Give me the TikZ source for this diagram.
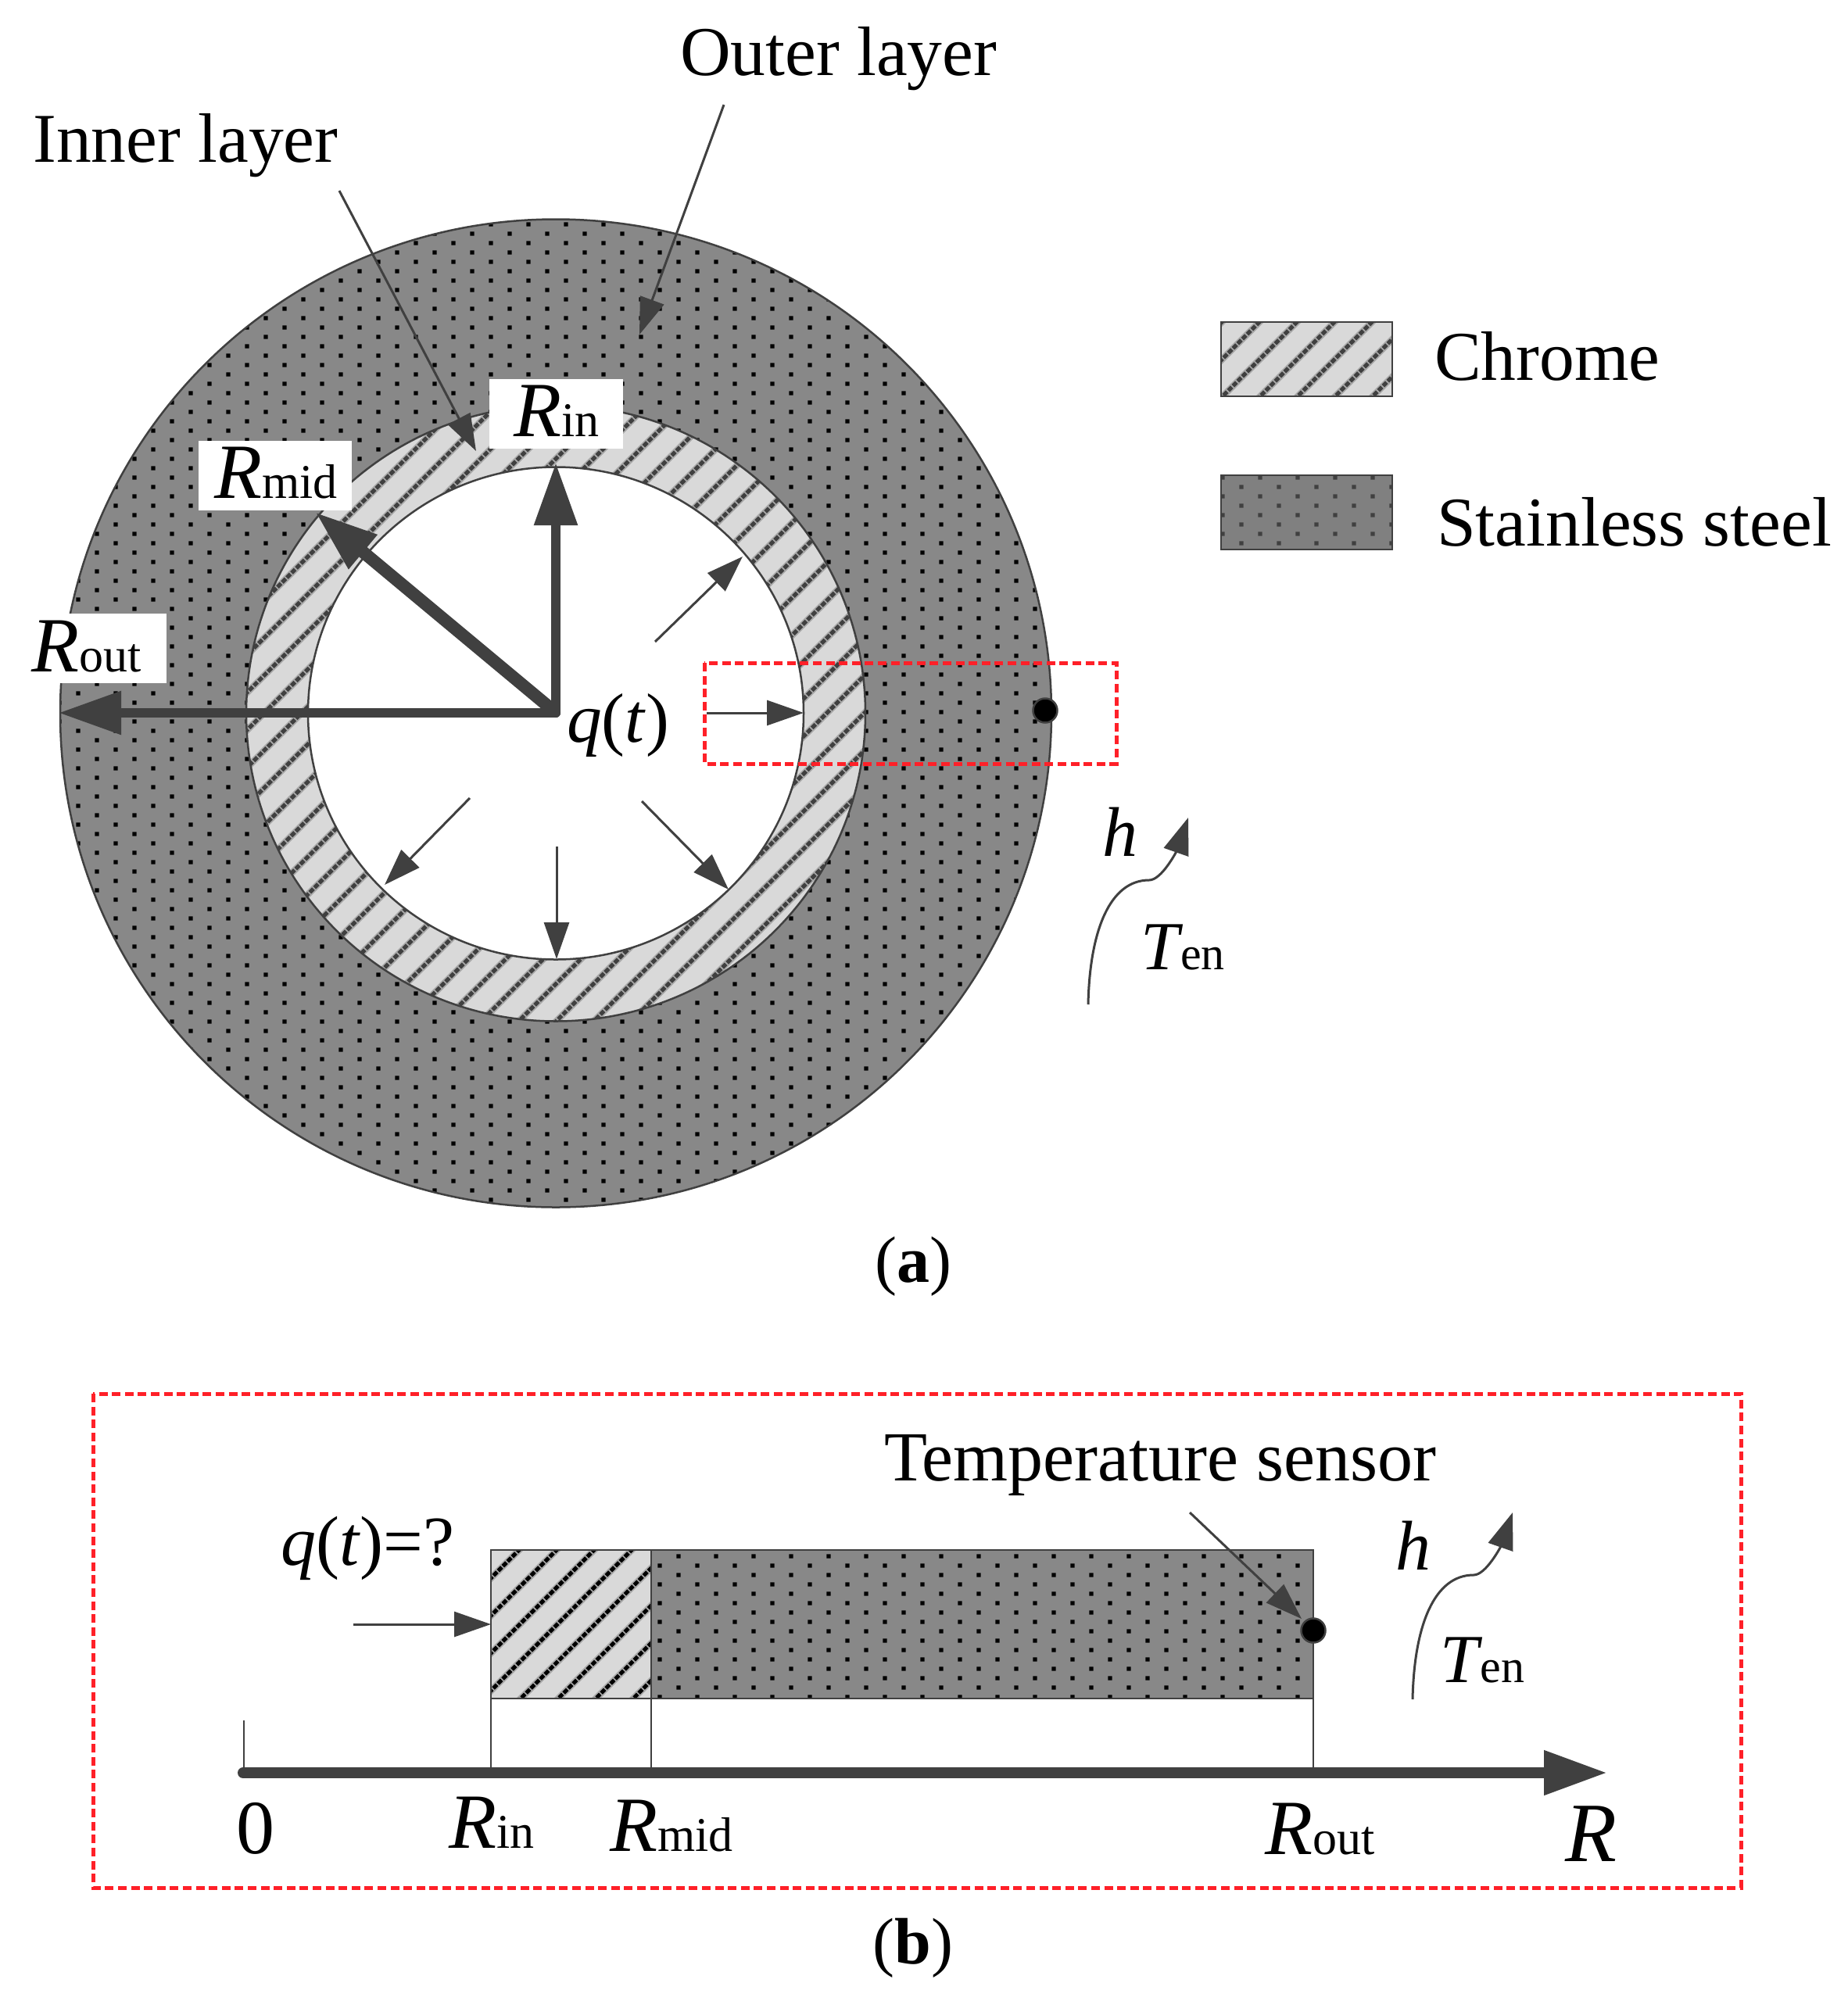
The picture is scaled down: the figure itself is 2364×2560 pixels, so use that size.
\documentclass[tikz,border=0pt]{standalone}
\usepackage{fontspec}
\setmainfont{Liberation Serif}
\usetikzlibrary{arrows.meta}
\definecolor{ink}{HTML}{404040}
\definecolor{steelfill}{HTML}{888888}
\definecolor{legendsteel}{HTML}{808080}
\definecolor{chromefill}{HTML}{D9D9D9}
\definecolor{halo}{HTML}{A8A8A8}
\definecolor{redbox}{HTML}{FF2028}
\newcommand{\fsz}[1]{\fontsize{#1}{#1}\selectfont}
\newcommand{\rlab}[1]{{\fsz{100}\textit{R}}{\fsz{62}#1}}
\newcommand{\tlab}{{\fsz{88}\textit{T}}\kern-3pt{\fsz{60}en}}
% \hatchlines{kmin}{kmax}{residue}{ymin}{ymax}{core colour}
\newcommand{\hatchlines}[6]{%
  \foreach \k in {#1,...,#2}{\draw[line width=8.5pt,halo] ({#3+48*\k-(#4)},#4) -- ({#3+48*\k-(#5)},#5);}%
  \foreach \k in {#1,...,#2}{\draw[line width=5pt,#6,dash pattern=on 6.5pt off 2pt] ({#3+48*\k-(#4)},#4) -- ({#3+48*\k-(#5)},#5);}%
}
% \dotgrid{x even}{x odd}{y0}{rows}{cols}{colour}
\newcommand{\dotgrid}[6]{%
  \fill[#6] \foreach \r [evaluate=\r as \xo using {(#1)+((#2)-(#1))*mod(\r,2)}] in {0,...,#4}{%
    \foreach \c in {0,...,#5}{(\xo+48*\c-2.65,#3+12*\r-2.65) rectangle ++(5.3,5.3)}};%
}
\tikzset{
  outline/.style={draw=ink,line width=2.5pt},
  thin arrow/.style={ink,line width=3pt,-{Triangle[length=47pt,width=32pt]}},
  thick arrow/.style={ink,line width=12pt,line cap=round,-{Triangle[length=80pt,width=53pt]}},
  curve arrow/.style={ink,line width=3pt,-{Triangle[length=47pt,width=33pt]}},
  txt/.style={anchor=base west,inner sep=0pt,font=\fsz{89.5}},
  redline/.style={draw=redbox,line width=5pt,dash pattern=on 11pt off 5.6pt},
  sensordot/.style={circle,fill=black,draw=ink,line width=2.5pt,minimum size=31pt,inner sep=0pt},
}
\begin{document}
\begin{tikzpicture}[x=1pt,y=-1pt]
\useasboundingbox (0,0) rectangle (2364,2560);
\fill[white] (0,0) rectangle (2364,2560);
% ---------- (a) rings
\begin{scope}
  \clip (711,912.5) ellipse[x radius=634pt,y radius=632pt];
  \fill[steelfill] (60,270) rectangle (1360,1560);
  \dotgrid{52}{28}{287}{106}{28}{black}
\end{scope}
\draw[outline] (711,912.5) ellipse[x radius=634pt,y radius=632pt];
\begin{scope}
  \clip (711,912.5) ellipse[x radius=396pt,y radius=394pt];
  \fill[chromefill] (300,500) rectangle (1120,1320);
  \hatchlines{17}{50}{2}{500}{1330}{ink}
\end{scope}
\draw[outline] (711,912.5) ellipse[x radius=396pt,y radius=394pt];
\draw[outline,fill=white] (711,912.5) ellipse[x radius=317pt,y radius=315pt];
% red box a
\draw[redline] (901,848) rectangle (1428,977);
% sensor a
\node[sensordot] (sa) at (1337,909) {};
% centre and thick arrows
\coordinate (c) at (711,912);
\coordinate (cd) at (703,905);
\coordinate (rinT) at (711,592);
\coordinate (rmidT) at (403,655);
\coordinate (routT) at (75,912);
\draw[thick arrow] (c) -- (rinT);
\draw[thick arrow,line width=16pt] (cd) -- (rmidT);
\draw[thick arrow] (c) -- (routT);
% thin flux arrows
\coordinate (f1a) at (838,821); \coordinate (f1b) at (950,712);
\coordinate (f2a) at (904,912); \coordinate (f2b) at (1028,912);
\coordinate (f3a) at (821,1025); \coordinate (f3b) at (932,1138);
\coordinate (f4a) at (712,1083); \coordinate (f4b) at (712,1227);
\coordinate (f5a) at (601,1021); \coordinate (f5b) at (492,1132);
\draw[thin arrow] (f1a) -- (f1b);
\draw[thin arrow] (f2a) -- (f2b);
\draw[thin arrow] (f3a) -- (f3b);
\draw[thin arrow] (f4a) -- (f4b);
\draw[thin arrow] (f5a) -- (f5b);
% leaders
\coordinate (ila) at (434,244); \coordinate (ilb) at (609,577);
\coordinate (ola) at (926,134); \coordinate (olb) at (818,428);
\draw[thin arrow] (ila) -- (ilb);
\draw[thin arrow] (ola) -- (olb);
% white label boxes
\fill[white] (626,485) rectangle (797,574);
\fill[white] (254,564) rectangle (450,653);
\fill[white] (34,785) rectangle (213,874);
\node[txt] (lrin) at (657,558) {\rlab{in}};
\node[txt] (lrmid) at (274,637) {\rlab{mid}};
\node[txt] (lrout) at (40,859) {\rlab{out}};
\node[txt] (lq) at (725,949) {\textit{q}(\textit{t})};
\node[txt] (lout) at (870,96) {Outer layer};
\node[txt] (lin) at (42,207) {Inner layer};
% h, T arrow a
\coordinate (ca0) at (1392,1285); \coordinate (ca1) at (1470,1126); \coordinate (ca2) at (1520,1046);
\draw[curve arrow] (ca0) .. controls (1394,1190) and (1420,1126) .. (ca1)
   .. controls (1486,1126) and (1505,1089) .. (ca2);
\node[txt,font=\fsz{90}] (lha) at (1410,1095) {\textit{h}};
\node[txt] (lta) at (1459,1240) {\tlab};
% legend
\begin{scope}
  \clip (1562,412) rectangle (1781,507);
  \fill[chromefill] (1562,412) rectangle (1781,507);
  \hatchlines{40}{47}{7}{405}{515}{ink}
\end{scope}
\draw[outline] (1562,412) rectangle (1781,507);
\begin{scope}
  \clip (1562,608) rectangle (1781,703);
  \fill[legendsteel] (1562,608) rectangle (1781,703);
  \dotgrid{1564}{1540}{611}{8}{5}{ink}
\end{scope}
\draw[outline] (1562,608) rectangle (1781,703);
\node[txt] (lch) at (1835,486) {Chrome};
\node[txt] (lss) at (1838,698) {Stainless steel};
\node[anchor=base,inner sep=0pt,font=\fsz{84}] (capa) at (1168,1640) {(\textbf{a})};
% ---------- (b)
\draw[redline] (119,1783) rectangle (2227,2415);
\begin{scope}
  \clip (628,1983) rectangle (833,2173);
  \fill[chromefill] (628,1983) rectangle (833,2173);
  \hatchlines{54}{62}{7}{1975}{2180}{black}
\end{scope}
\begin{scope}
  \clip (833,1983) rectangle (1680,2173);
  \fill[steelfill] (833,1983) rectangle (1680,2173);
  \dotgrid{868}{844}{1991}{15}{18}{black}
\end{scope}
\draw[outline] (628,1983) rectangle (1680,2173);
\draw[outline] (833,1983) -- (833,2173);
\coordinate (t0a) at (312,2201); \coordinate (t0b) at (312,2268);
\coordinate (t1a) at (628,2173); \coordinate (t1b) at (628,2268);
\coordinate (t2a) at (833,2173); \coordinate (t2b) at (833,2268);
\coordinate (t3a) at (1680,2173); \coordinate (t3b) at (1680,2268);
\draw[ink,line width=2.5pt] (t0a) -- (t0b);
\draw[ink,line width=2.5pt] (t1a) -- (t1b);
\draw[ink,line width=2.5pt] (t2a) -- (t2b);
\draw[ink,line width=2.5pt] (t3a) -- (t3b);
\coordinate (ax0) at (311,2268); \coordinate (ax1) at (2056,2268);
\draw[ink,line width=14pt,line cap=round,-{Triangle[length=81pt,width=54pt]}] (ax0) -- (ax1);
% arrows b
\coordinate (qa) at (452,2078); \coordinate (qb) at (628,2078);
\draw[thin arrow] (qa) -- (qb);
\node[sensordot] (sb) at (1680,2086) {};
\coordinate (sa0) at (1522,1935); \coordinate (sa1) at (1665,2071);
\draw[thin arrow] (sa0) -- (sa1);
\coordinate (cb0) at (1807,2174); \coordinate (cb1) at (1885,2015); \coordinate (cb2) at (1935,1935);
\draw[curve arrow] (cb0) .. controls (1809,2079) and (1835,2015) .. (cb1)
   .. controls (1901,2015) and (1920,1978) .. (cb2);
% labels b
\node[txt,font=\fsz{90}] (lts) at (1131,1894) {Temperature sensor};
\node[txt,font=\fsz{90}] (lq2) at (359,2002) {\textit{q}(\textit{t})=?};
\node[txt,font=\fsz{90}] (lhb) at (1785,2008) {\textit{h}};
\node[txt] (ltb) at (1842,2152) {\tlab};
\node[txt,font=\fsz{98}] (l0) at (302,2371) {0};
\node[txt] (brin) at (574,2364) {\rlab{in}};
\node[txt] (brmid) at (780,2368) {\rlab{mid}};
\node[txt] (brout) at (1618,2372) {\rlab{out}};
\node[txt,font=\fsz{108}] (br) at (2002,2381) {\textit{R}};
\node[anchor=base,inner sep=0pt,font=\fsz{84}] (capb) at (1168,2512) {(\textbf{b})};
\end{tikzpicture}
\end{document}
